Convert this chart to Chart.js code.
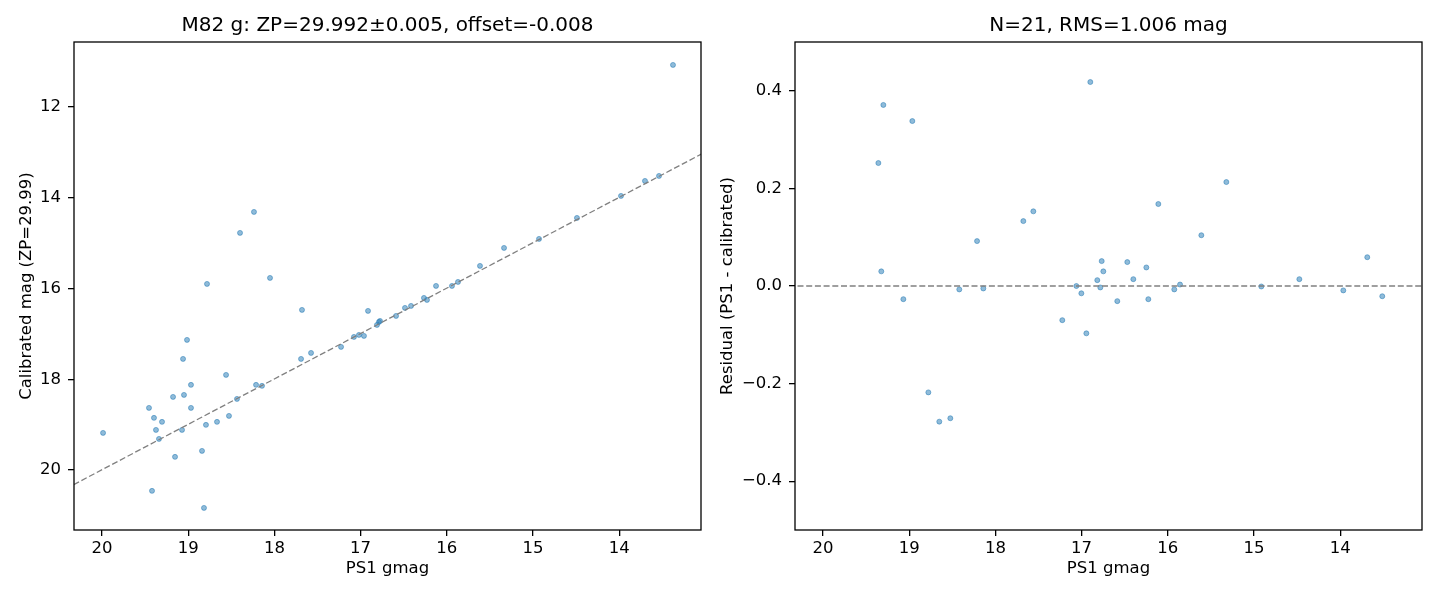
<!DOCTYPE html>
<html>
<head>
<meta charset="utf-8">
<script src="https://cdn.jsdelivr.net/npm/chart.js@4.4.1/dist/chart.umd.min.js"></script>
<style>
  html, body { margin: 0; padding: 0; background: #fff; }
  body { width: 1440px; height: 600px; position: relative; overflow: hidden; }
  .panel { position: absolute; top: 0; height: 600px; }
</style>
</head>
<body>
<div class="panel" style="left:0; width:710px;"><canvas id="calib"></canvas></div>
<div class="panel" style="left:710px; width:730px;"><canvas id="resid"></canvas></div>
<script>
// left panel: PS1 gmag vs calibrated mag
const calX = [13.376, 13.538, 13.701, 13.979, 14.490, 14.930, 15.336, 15.615, 15.870, 15.940,
  16.125, 16.230, 16.265, 16.415, 16.485, 16.589, 16.775, 16.787, 16.810, 16.914,
  16.961, 17.019, 17.077, 17.227, 17.575, 17.691, 17.680, 18.237, 18.399, 18.051,
  18.782, 19.014, 19.060, 18.561, 18.213, 18.144, 18.968, 19.176, 19.049, 18.434,
  19.455, 18.968, 19.397, 19.304, 18.527, 18.666, 18.794, 19.374, 19.072, 19.339,
  19.988, 19.153, 18.840, 19.420, 18.817];
const calY = [11.075, 13.520, 13.630, 13.960, 14.445, 14.907, 15.106, 15.502, 15.855, 15.943,
  15.943, 16.251, 16.207, 16.383, 16.427, 16.604, 16.714, 16.736, 16.802, 16.493,
  17.044, 17.022, 17.066, 17.286, 17.419, 17.551, 16.471, 14.313, 14.775, 15.767,
  15.899, 17.132, 17.551, 17.903, 18.123, 18.145, 18.123, 18.388, 18.344, 18.432,
  18.630, 18.630, 18.850, 18.938, 18.806, 18.938, 19.004, 19.115, 19.115, 19.313,
  19.181, 19.709, 19.577, 20.458, 20.833];

// right panel: residuals
const resX = [19.300, 18.964, 19.358, 16.899, 17.560, 17.676, 16.110, 18.213, 19.324, 19.068,
  18.419, 18.140, 17.061, 17.003, 16.818, 16.783, 16.767, 16.748, 16.470, 16.400,
  16.586, 16.249, 16.226, 15.925, 15.858, 17.224, 16.945, 18.778, 18.651, 18.523,
  15.321, 15.611, 13.686, 14.474, 14.915, 13.964, 13.512];
const resY = [0.371, 0.338, 0.252, 0.418, 0.153, 0.133, 0.168, 0.092, 0.030, -0.027,
  -0.007, -0.005, 0.000, -0.015, 0.012, -0.003, 0.051, 0.030, 0.049, 0.014,
  -0.031, 0.038, -0.027, -0.007, 0.003, -0.070, -0.097, -0.218, -0.278, -0.271,
  0.213, 0.104, 0.059, 0.014, -0.001, -0.009, -0.021];

const zpOffset = -0.008;
const xLimits = [13.051, 20.325];
const calYLimits = [10.57, 21.32];
const resYLimits = [-0.5, 0.5];

const xTicks = [14, 15, 16, 17, 18, 19, 20];
const calYTicks = [12, 14, 16, 18, 20];
const resYTicks = [-0.4, -0.2, 0.0, 0.2, 0.4];

const calTitle = 'M82 g: ZP=29.992\u00b10.005, offset=-0.008';
const resTitle = 'N=21, RMS=1.006 mag';

Chart.defaults.font.family = 'DejaVu Sans';
Chart.defaults.color = '#000';

const pointFill = 'rgba(31,119,180,0.5)';

const framePlugin = {
  id: 'frame',
  afterDraw(chart) {
    const { ctx, chartArea: a } = chart;
    ctx.save();
    ctx.strokeStyle = '#000';
    ctx.lineWidth = 1.3;
    ctx.strokeRect(a.left, a.top, a.right - a.left, a.bottom - a.top);
    ctx.restore();
  }
};

function minusSign(s) {
  return String(s).replace('-', '\u2212');
}

function makeScales(yLimits, yTicks, yTitle, yWidth, yTitlePad, yFmt) {
  const tickGrid = {
    drawOnChartArea: false,
    drawTicks: true,
    tickLength: 6,
    color: '#000',
    lineWidth: 1.3
  };
  return {
    x: {
      type: 'linear',
      reverse: true,
      min: xLimits[0],
      max: xLimits[1],
      grid: tickGrid,
      border: { display: false },
      ticks: { font: { size: 16.5 }, padding: 3, callback: v => minusSign(v) },
      afterBuildTicks: s => { s.ticks = xTicks.map(v => ({ value: v })); },
      afterFit: s => { s.height = 70; },
      title: { display: true, text: 'PS1 gmag', font: { size: 16.5 }, padding: { top: 0, bottom: 21 } }
    },
    y: {
      type: 'linear',
      reverse: yLimits[0] > 5,
      min: yLimits[0],
      max: yLimits[1],
      grid: tickGrid,
      border: { display: false },
      ticks: { font: { size: 16.5 }, padding: 7, callback: yFmt },
      afterBuildTicks: s => { s.ticks = yTicks.map(v => ({ value: v })); },
      afterFit: s => { s.width = yWidth; },
      title: { display: true, text: yTitle, font: { size: 16.5 }, padding: { top: yTitlePad, bottom: 0 } }
    }
  };
}

function titleOpts(text) {
  return {
    display: true,
    text: text,
    fullSize: false,
    font: { size: 20, weight: 'normal' },
    color: '#000',
    padding: { top: 14, bottom: 4 }
  };
}

// left chart
const calLine = [xLimits[0] - 1, xLimits[1] + 1].map(v => ({ x: v, y: v + zpOffset }));
new Chart(document.getElementById('calib'), {
  type: 'scatter',
  data: {
    datasets: [
      {
        type: 'line',
        data: calLine,
        borderColor: '#808080',
        borderWidth: 1.3,
        borderDash: [6, 2.7],
        pointRadius: 0,
        order: 0
      },
      {
        data: calX.map((v, i) => ({ x: v, y: calY[i] })),
        backgroundColor: pointFill,
        borderColor: pointFill,
        borderWidth: 1,
        pointRadius: 2.5,
        order: 1
      }
    ]
  },
  options: {
    responsive: true,
    maintainAspectRatio: false,
    animation: false,
    layout: { padding: { left: 0, right: 9, top: 0, bottom: 0 } },
    plugins: { legend: { display: false }, tooltip: { enabled: false }, title: titleOpts(calTitle) },
    scales: makeScales(calYLimits, calYTicks, 'Calibrated mag (ZP=29.99)', 74, 17, v => minusSign(v))
  },
  plugins: [framePlugin]
});

// right chart
const zeroLine = [xLimits[0] - 1, xLimits[1] + 1].map(v => ({ x: v, y: 0 }));
new Chart(document.getElementById('resid'), {
  type: 'scatter',
  data: {
    datasets: [
      {
        type: 'line',
        data: zeroLine,
        borderColor: '#808080',
        borderWidth: 1.3,
        borderDash: [6, 2.7],
        pointRadius: 0,
        order: 0
      },
      {
        data: resX.map((v, i) => ({ x: v, y: resY[i] })),
        backgroundColor: pointFill,
        borderColor: pointFill,
        borderWidth: 1,
        pointRadius: 2.5,
        order: 1
      }
    ]
  },
  options: {
    responsive: true,
    maintainAspectRatio: false,
    animation: false,
    layout: { padding: { left: 0, right: 18, top: 0, bottom: 0 } },
    plugins: { legend: { display: false }, tooltip: { enabled: false }, title: titleOpts(resTitle) },
    scales: makeScales(resYLimits, resYTicks, 'Residual (PS1 - calibrated)', 85, 8, v => minusSign(Number(v).toFixed(1)))
  },
  plugins: [framePlugin]
});
</script>
</body>
</html>
